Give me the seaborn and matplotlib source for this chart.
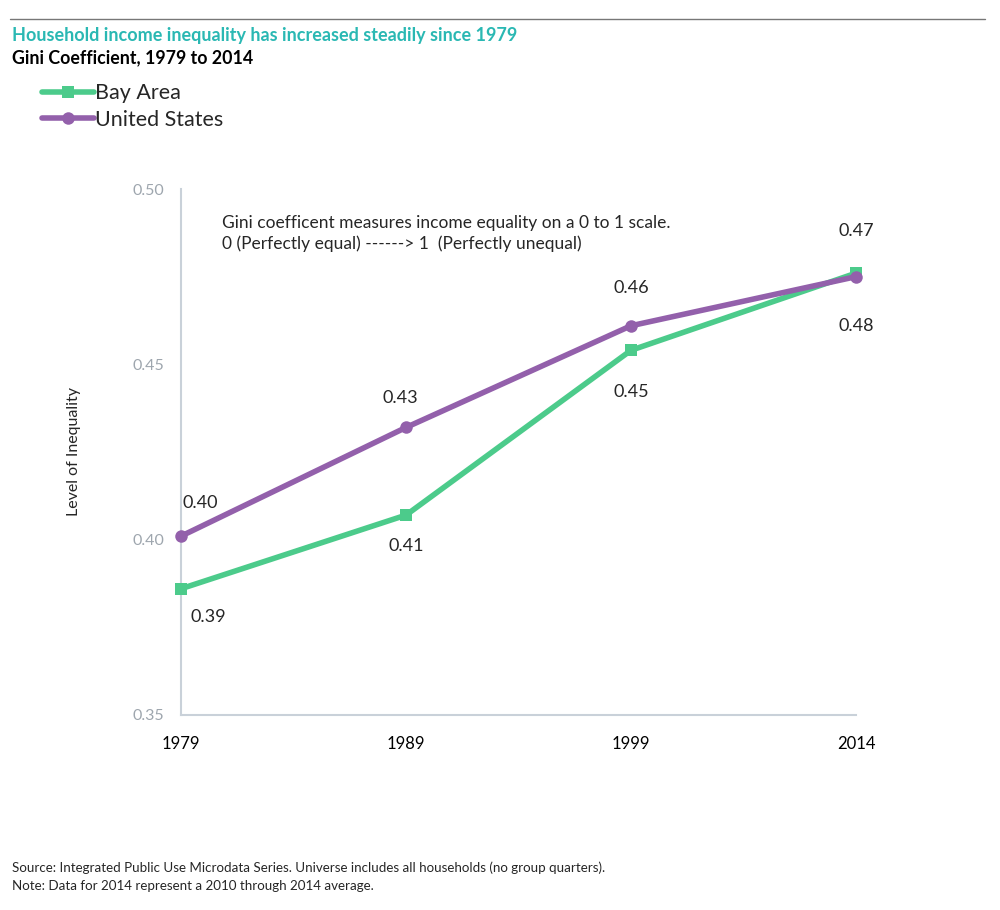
import numpy as np
import pandas as pd
import matplotlib as mpl
mpl.use('Agg')
import matplotlib.pyplot as plt
import seaborn as sns

# data
years = ['1979', '1989', '1999', '2014']
bay_area = [0.386, 0.407, 0.454, 0.476]
united_states = [0.401, 0.432, 0.461, 0.475]
bay_labels = ['0.39', '0.41', '0.45', '0.48']
us_labels = ['0.40', '0.43', '0.46', '0.47']
y_ticks = [0.35, 0.40, 0.45, 0.50]

df = pd.DataFrame({'Year': years * 2,
                   'Gini': bay_area + united_states,
                   'Region': ['Bay Area'] * 4 + ['United States'] * 4})

sns.set_style('white')
plt.rcParams['font.family'] = ['Lato', 'DejaVu Sans']

GREEN = '#4ccb8b'
PURPLE = '#9360ab'
AXIS = '#c9d1d9'

fig = plt.figure(figsize=(10, 9.1), dpi=100)
ax = fig.add_axes([0.181, 0.2143, 0.675, 0.578])

sns.lineplot(data=df, x='Year', y='Gini', hue='Region', style='Region',
             palette={'Bay Area': GREEN, 'United States': PURPLE},
             markers={'Bay Area': 's', 'United States': 'o'},
             dashes=False, linewidth=4, markersize=9, markeredgewidth=0,
             sort=False, ax=ax, clip_on=False, zorder=5)

ax.set_xlim(0, 3)
ax.set_ylim(0.35, 0.50)
ax.set_yticks(y_ticks)
ax.set_yticklabels(['%.2f' % t for t in y_ticks], fontsize=11.5)
ax.tick_params(axis='x', labelsize=12, colors=AXIS, labelcolor='black', length=6, width=1.2,
               pad=15, direction='in')
ax.tick_params(axis='y', colors=AXIS, labelcolor='#9ea6ae', length=6, width=1.2, pad=6,
               direction='out')
ax.set_xlabel('')
ax.set_ylabel('Level of Inequality', fontsize=11.5, labelpad=37)
for s in ['top', 'right']:
    ax.spines[s].set_visible(False)
for s in ['left', 'bottom']:
    ax.spines[s].set_color(AXIS)
    ax.spines[s].set_linewidth(1.5)

# value labels (offsets in points)
us_off = [(14, 24), (-4, 21), (0, 27), (0, 33)]
bay_off = [(20, -20), (0, -22), (0, -30), (0, -38)]
for i in range(4):
    ax.annotate(us_labels[i], (i, united_states[i]), xytext=us_off[i],
                textcoords='offset points', ha='center', va='center', fontsize=13)
    ax.annotate(bay_labels[i], (i, bay_area[i]), xytext=bay_off[i],
                textcoords='offset points', ha='center', va='center', fontsize=13)

ax.text(0.061, 0.915, 'Gini coefficent measures income equality on a 0 to 1 scale.\n'
        '0 (Perfectly equal) ------> 1  (Perfectly unequal)',
        transform=ax.transAxes, fontsize=12.5, va='center', ha='left', linespacing=1.3)

# legend
h, l = ax.get_legend_handles_labels()
ax.legend(h, l, loc='upper left', bbox_to_anchor=(0.042, 0.9085), bbox_transform=fig.transFigure,
          frameon=False, fontsize=15.5, handlelength=2.4, handletextpad=0.05,
          labelspacing=0.3, borderaxespad=0, borderpad=0)

# header / footer
fig.add_artist(plt.Line2D([0.01, 0.985], [0.979, 0.979], color='#777777', linewidth=1))
fig.text(0.012, 0.961, 'Household income inequality has increased steadily since 1979',
         color='#2ab8b3', fontsize=13, fontweight='bold', va='center')
fig.text(0.012, 0.936, 'Gini Coefficient, 1979 to 2014',
         color='black', fontsize=12.8, fontweight='bold', va='center')
fig.text(0.012, 0.046, 'Source: Integrated Public Use Microdata Series. Universe includes all households (no group quarters).',
         fontsize=9.6, va='center')
fig.text(0.012, 0.026, 'Note: Data for 2014 represent a 2010 through 2014 average.',
         fontsize=9.6, va='center')

fig.savefig('out.png', dpi=100)
